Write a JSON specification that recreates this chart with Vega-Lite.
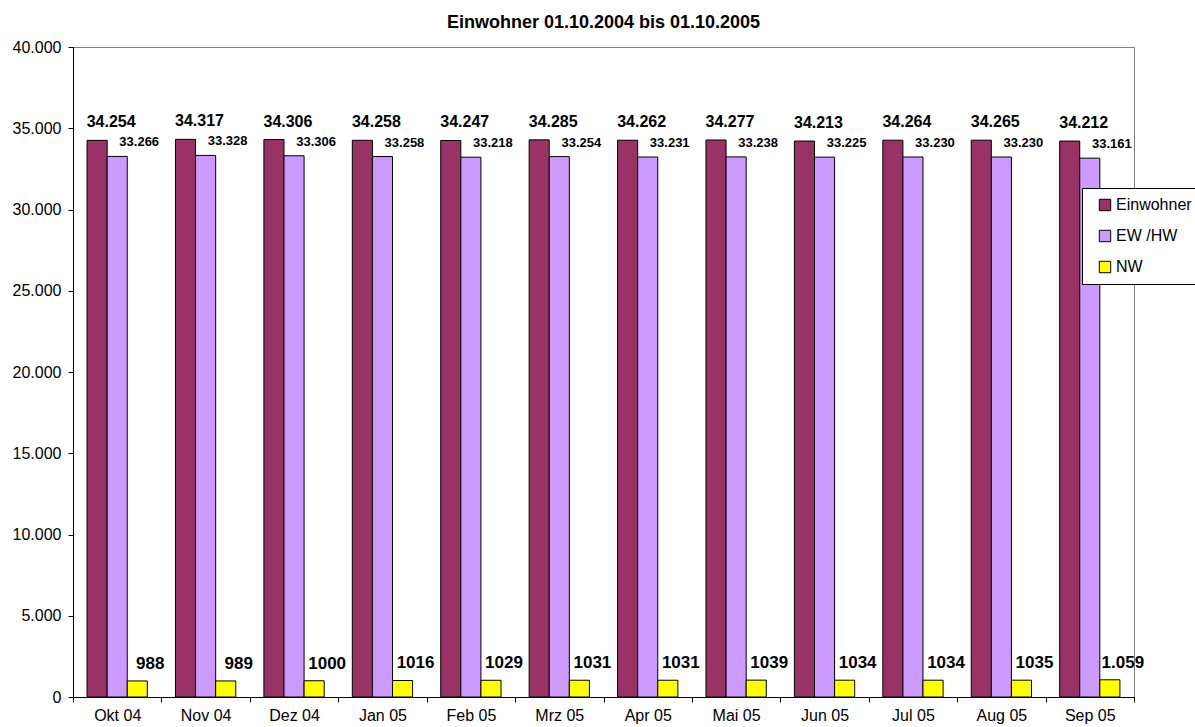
{
  "$schema": "https://vega.github.io/schema/vega-lite/v6.json",
  "autosize": "none",
  "width": 1061,
  "height": 650,
  "padding": {"left": 73, "top": 47, "right": 61, "bottom": 30},
  "background": "white",
  "title": {"text": "Einwohner 01.10.2004 bis 01.10.2005", "font": "Liberation Sans", "fontSize": 18, "fontWeight": "bold", "color": "black", "anchor": "middle", "offset": 7},
  "data": {"values": [
    {"month": "Okt 04", "series": "Einwohner", "value": 34254, "label": "34.254"},
    {"month": "Okt 04", "series": "EW /HW", "value": 33266, "label": "33.266"},
    {"month": "Okt 04", "series": "NW", "value": 988, "label": "988"},
    {"month": "Nov 04", "series": "Einwohner", "value": 34317, "label": "34.317"},
    {"month": "Nov 04", "series": "EW /HW", "value": 33328, "label": "33.328"},
    {"month": "Nov 04", "series": "NW", "value": 989, "label": "989"},
    {"month": "Dez 04", "series": "Einwohner", "value": 34306, "label": "34.306"},
    {"month": "Dez 04", "series": "EW /HW", "value": 33306, "label": "33.306"},
    {"month": "Dez 04", "series": "NW", "value": 1000, "label": "1000"},
    {"month": "Jan 05", "series": "Einwohner", "value": 34258, "label": "34.258"},
    {"month": "Jan 05", "series": "EW /HW", "value": 33258, "label": "33.258"},
    {"month": "Jan 05", "series": "NW", "value": 1016, "label": "1016"},
    {"month": "Feb 05", "series": "Einwohner", "value": 34247, "label": "34.247"},
    {"month": "Feb 05", "series": "EW /HW", "value": 33218, "label": "33.218"},
    {"month": "Feb 05", "series": "NW", "value": 1029, "label": "1029"},
    {"month": "Mrz 05", "series": "Einwohner", "value": 34285, "label": "34.285"},
    {"month": "Mrz 05", "series": "EW /HW", "value": 33254, "label": "33.254"},
    {"month": "Mrz 05", "series": "NW", "value": 1031, "label": "1031"},
    {"month": "Apr 05", "series": "Einwohner", "value": 34262, "label": "34.262"},
    {"month": "Apr 05", "series": "EW /HW", "value": 33231, "label": "33.231"},
    {"month": "Apr 05", "series": "NW", "value": 1031, "label": "1031"},
    {"month": "Mai 05", "series": "Einwohner", "value": 34277, "label": "34.277"},
    {"month": "Mai 05", "series": "EW /HW", "value": 33238, "label": "33.238"},
    {"month": "Mai 05", "series": "NW", "value": 1039, "label": "1039"},
    {"month": "Jun 05", "series": "Einwohner", "value": 34213, "label": "34.213"},
    {"month": "Jun 05", "series": "EW /HW", "value": 33225, "label": "33.225"},
    {"month": "Jun 05", "series": "NW", "value": 1034, "label": "1034"},
    {"month": "Jul 05", "series": "Einwohner", "value": 34264, "label": "34.264"},
    {"month": "Jul 05", "series": "EW /HW", "value": 33230, "label": "33.230"},
    {"month": "Jul 05", "series": "NW", "value": 1034, "label": "1034"},
    {"month": "Aug 05", "series": "Einwohner", "value": 34265, "label": "34.265"},
    {"month": "Aug 05", "series": "EW /HW", "value": 33230, "label": "33.230"},
    {"month": "Aug 05", "series": "NW", "value": 1035, "label": "1035"},
    {"month": "Sep 05", "series": "Einwohner", "value": 34212, "label": "34.212"},
    {"month": "Sep 05", "series": "EW /HW", "value": 33161, "label": "33.161"},
    {"month": "Sep 05", "series": "NW", "value": 1059, "label": "1.059"}
  ]},
  "encoding": {
    "x": {
      "field": "month", "type": "nominal",
      "sort": ["Okt 04", "Nov 04", "Dez 04", "Jan 05", "Feb 05", "Mrz 05", "Apr 05", "Mai 05", "Jun 05", "Jul 05", "Aug 05", "Sep 05"],
      "scale": {"paddingInner": 0, "paddingOuter": 0},
      "axis": {"title": null, "labelAngle": 0, "tickBand": "extent", "labelFont": "Liberation Sans", "labelFontSize": 16, "labelColor": "black", "domainColor": "black", "tickColor": "black", "tickSize": 5, "labelPadding": 5, "grid": false}
    },
    "xOffset": {
      "field": "series", "type": "nominal",
      "sort": ["Einwohner", "EW /HW", "NW"],
      "scale": {"paddingOuter": 0.7, "paddingInner": 0}
    },
    "y": {
      "field": "value", "type": "quantitative",
      "scale": {"domain": [0, 40000], "nice": false},
      "axis": {"title": null, "values": [0, 5000, 10000, 15000, 20000, 25000, 30000, 35000, 40000], "labelExpr": "replace(format(datum.value, ',d'), ',', '.')", "grid": false, "labelFont": "Liberation Sans", "labelFontSize": 16, "labelColor": "black", "domainColor": "black", "tickColor": "black", "tickSize": 5, "labelPadding": 7}
    }
  },
  "layer": [
    {
      "mark": {"type": "bar", "stroke": "black", "strokeWidth": 1},
      "encoding": {
        "color": {
          "field": "series", "type": "nominal",
          "scale": {"domain": ["Einwohner", "EW /HW", "NW"], "range": ["#993366", "#CC99FF", "#FFFF00"]},
          "legend": {
            "title": null, "orient": "none", "legendX": 1009, "legendY": 141,
            "symbolType": "square", "symbolSize": 130, "symbolStrokeColor": "black", "symbolStrokeWidth": 1,
            "labelFont": "Liberation Sans", "labelFontSize": 16, "labelColor": "black", "labelOffset": 3,
            "rowPadding": 15, "padding": 9, "symbolOffset": 6,
            "strokeColor": "black", "fillColor": "white", "cornerRadius": 0
          }
        }
      }
    },
    {
      "transform": [{"filter": "datum.series === 'Einwohner'"}],
      "mark": {"type": "text", "font": "Liberation Sans", "fontSize": 16, "fontWeight": "bold", "color": "black", "baseline": "alphabetic", "dx": 14, "dy": -13},
      "encoding": {"text": {"field": "label"}}
    },
    {
      "transform": [{"filter": "datum.series === 'EW /HW'"}],
      "mark": {"type": "text", "font": "Liberation Sans", "fontSize": 13, "fontWeight": "bold", "color": "black", "baseline": "alphabetic", "dx": 22, "dy": -10},
      "encoding": {"text": {"field": "label"}}
    },
    {
      "transform": [{"filter": "datum.series === 'NW'"}],
      "mark": {"type": "text", "font": "Liberation Sans", "fontSize": 17, "fontWeight": "bold", "color": "black", "baseline": "alphabetic", "dx": 13, "dy": -12},
      "encoding": {"text": {"field": "label"}}
    }
  ],
  "config": {"view": {"stroke": "#808080", "strokeWidth": 1}}
}
